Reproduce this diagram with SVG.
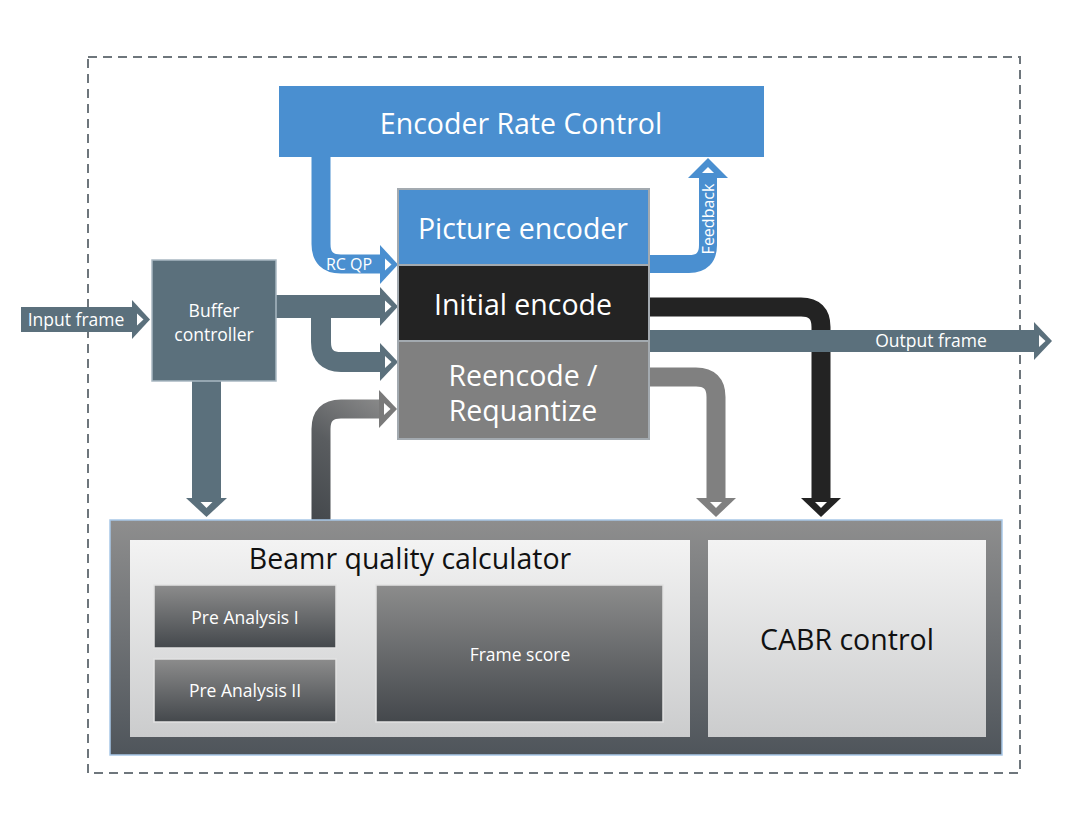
<svg xmlns="http://www.w3.org/2000/svg" width="1080" height="834" viewBox="0 0 1080 834">
<defs>
<style>
.t{font-family:"Open Sans","Noto Sans","Liberation Sans",sans-serif;font-weight:400;fill:#fff;text-anchor:middle}
.big{font-size:28.5px}
.mid{font-size:17.5px}
.sm{font-size:16px}
.dark{fill:#111}
.slate{fill:#5b707c}
.blue{fill:#4a8fd0}
.blk{fill:#232323}
.gry{fill:#808080}
.wt{fill:#fff}
</style>
<linearGradient id="gOuter" x1="0" y1="0" x2="0" y2="1"><stop offset="0" stop-color="#8e8e8e"/><stop offset="1" stop-color="#4f555b"/></linearGradient>
<linearGradient id="gPanel" x1="0" y1="0" x2="0" y2="1"><stop offset="0" stop-color="#f3f3f3"/><stop offset="1" stop-color="#cbcccd"/></linearGradient>
<linearGradient id="gSub" x1="0" y1="0" x2="0" y2="1"><stop offset="0" stop-color="#8c8c8c"/><stop offset="1" stop-color="#44484c"/></linearGradient>
<linearGradient id="gUp" gradientUnits="userSpaceOnUse" x1="318" y1="520" x2="398" y2="405"><stop offset="0" stop-color="#45494d"/><stop offset="0.5" stop-color="#5a5d60"/><stop offset="1" stop-color="#8d8d8d"/></linearGradient>
</defs>
<rect x="0" y="0" width="1080" height="834" fill="#fff"/>
<rect x="88" y="57" width="932" height="716" fill="none" stroke="#6e767c" stroke-width="2" stroke-dasharray="9 6"/>

<g id="connectors">
  <!-- Input frame -->
  <rect x="21" y="307" width="112" height="25" class="slate"/>
  <polygon points="132,300 150,319.5 132,339" class="slate"/>
  <polygon points="137,313.5 143.5,319.5 137,325.5" class="wt"/>
  <text x="76" y="326" class="t mid">Input frame</text>
  <!-- RC QP -->
  <path d="M321 157 V244 Q321 264 341 264 H381" fill="none" stroke="#4a8fd0" stroke-width="19"/>
  <polygon points="380,245 398,264.5 380,284" class="blue"/>
  <polygon points="385,258.5 391.5,264.5 385,270.5" class="wt"/>
  <text x="349" y="270" class="t sm">RC QP</text>
  <!-- Feedback -->
  <path d="M648 264 H689 Q708 264 708 245 V178" fill="none" stroke="#4a8fd0" stroke-width="18"/>
  <polygon points="688,178 708,158 728,178" class="blue"/>
  <polygon points="702,173 708,167 714,173" class="wt"/>
  <text transform="translate(714,219) rotate(-90)" x="0" y="0" class="t sm">Feedback</text>
  <!-- Buffer to initial encode -->
  <rect x="275" y="295" width="106" height="23" class="slate"/>
  <path d="M321 306 V342 Q321 362 341 362 H381" fill="none" stroke="#5b707c" stroke-width="20"/>
  <polygon points="380,287 398,306.5 380,326" class="slate"/>
  <polygon points="385,300.5 391.5,306.5 385,312.5" class="wt"/>
  <polygon points="380,343 398,362 380,381" class="slate"/>
  <polygon points="385,356 391.5,362 385,368" class="wt"/>
  <!-- Buffer down -->
  <rect x="192" y="380" width="29" height="119" class="slate"/>
  <polygon points="186,498 227,498 206.5,517" class="slate"/>
  <polygon points="200.5,502 212.5,502 206.5,508" class="wt"/>
  <!-- Beamr up to Reencode -->
  <path d="M321 521 V429 Q321 409 341 409 H381" fill="none" stroke="url(#gUp)" stroke-width="19"/>
  <polygon points="379,390 397,409 379,428" fill="#7a7a7a"/>
  <polygon points="384,403 390.5,409 384,415" class="wt"/>
  <!-- Initial encode to CABR (black) -->
  <path d="M648 307 H801 Q821 307 821 327 V499" fill="none" stroke="#232323" stroke-width="19"/>
  <polygon points="801,498 841,498 821,517" class="blk"/>
  <polygon points="815,502 827,502 821,508" class="wt"/>
  <!-- Reencode to CABR (gray) -->
  <path d="M648 377 H696 Q716 377 716 397 V499" fill="none" stroke="#808080" stroke-width="19"/>
  <polygon points="696,498 736,498 716,517" class="gry"/>
  <polygon points="710,502 722,502 716,508" class="wt"/>
  <!-- Output frame -->
  <rect x="648" y="330" width="387" height="22" class="slate"/>
  <polygon points="1034,322 1052,341 1034,360" class="slate"/>
  <polygon points="1039,335 1045.5,341 1039,347" class="wt"/>
  <text x="931" y="347" class="t mid">Output frame</text>
</g>

<g id="encoder-rate-control">
  <rect x="279" y="86" width="485" height="71" class="blue"/>
  <text x="521" y="134" class="t big">Encoder Rate Control</text>
</g>
<g id="picture-encoder">
  <rect x="398" y="189" width="251" height="76" class="blue" stroke="#a3aab0" stroke-width="2"/>
  <text x="523" y="239" class="t big">Picture encoder</text>
</g>
<g id="initial-encode">
  <rect x="398" y="265" width="251" height="76" class="blk" stroke="#a3aab0" stroke-width="2"/>
  <text x="523" y="315" class="t big">Initial encode</text>
</g>
<g id="reencode">
  <rect x="398" y="341" width="251" height="98" class="gry" stroke="#a3aab0" stroke-width="2"/>
  <text x="523" y="386" class="t big">Reencode /</text>
  <text x="523" y="421" class="t big">Requantize</text>
</g>
<g id="buffer-controller">
  <rect x="152" y="260" width="124" height="121" class="slate" stroke="#a9b8c2" stroke-width="1.5"/>
  <text x="214" y="317" class="t mid">Buffer</text>
  <text x="214" y="341" class="t mid">controller</text>
</g>
<g id="bottom-container">
  <rect x="110" y="520" width="892" height="235" fill="url(#gOuter)" stroke="#a8c8e8" stroke-width="1.5"/>
</g>
<g id="beamr-quality-calculator">
  <rect x="130" y="540" width="560" height="197" fill="url(#gPanel)"/>
  <text x="410" y="569" class="t big dark">Beamr quality calculator</text>
</g>
<g id="pre-analysis-1">
  <rect x="154" y="585" width="182" height="63" fill="url(#gSub)" stroke="#e2e2e2" stroke-width="1.5"/>
  <text x="245" y="624" class="t mid">Pre Analysis I</text>
</g>
<g id="pre-analysis-2">
  <rect x="154" y="659" width="182" height="63" fill="url(#gSub)" stroke="#e2e2e2" stroke-width="1.5"/>
  <text x="245" y="697" class="t mid">Pre Analysis II</text>
</g>
<g id="frame-score">
  <rect x="376" y="585" width="287" height="137" fill="url(#gSub)" stroke="#e2e2e2" stroke-width="1.5"/>
  <text x="520" y="661" class="t mid">Frame score</text>
</g>
<g id="cabr-control">
  <rect x="708" y="540" width="278" height="197" fill="url(#gPanel)"/>
  <text x="847" y="650" class="t big dark">CABR control</text>
</g>
</svg>
